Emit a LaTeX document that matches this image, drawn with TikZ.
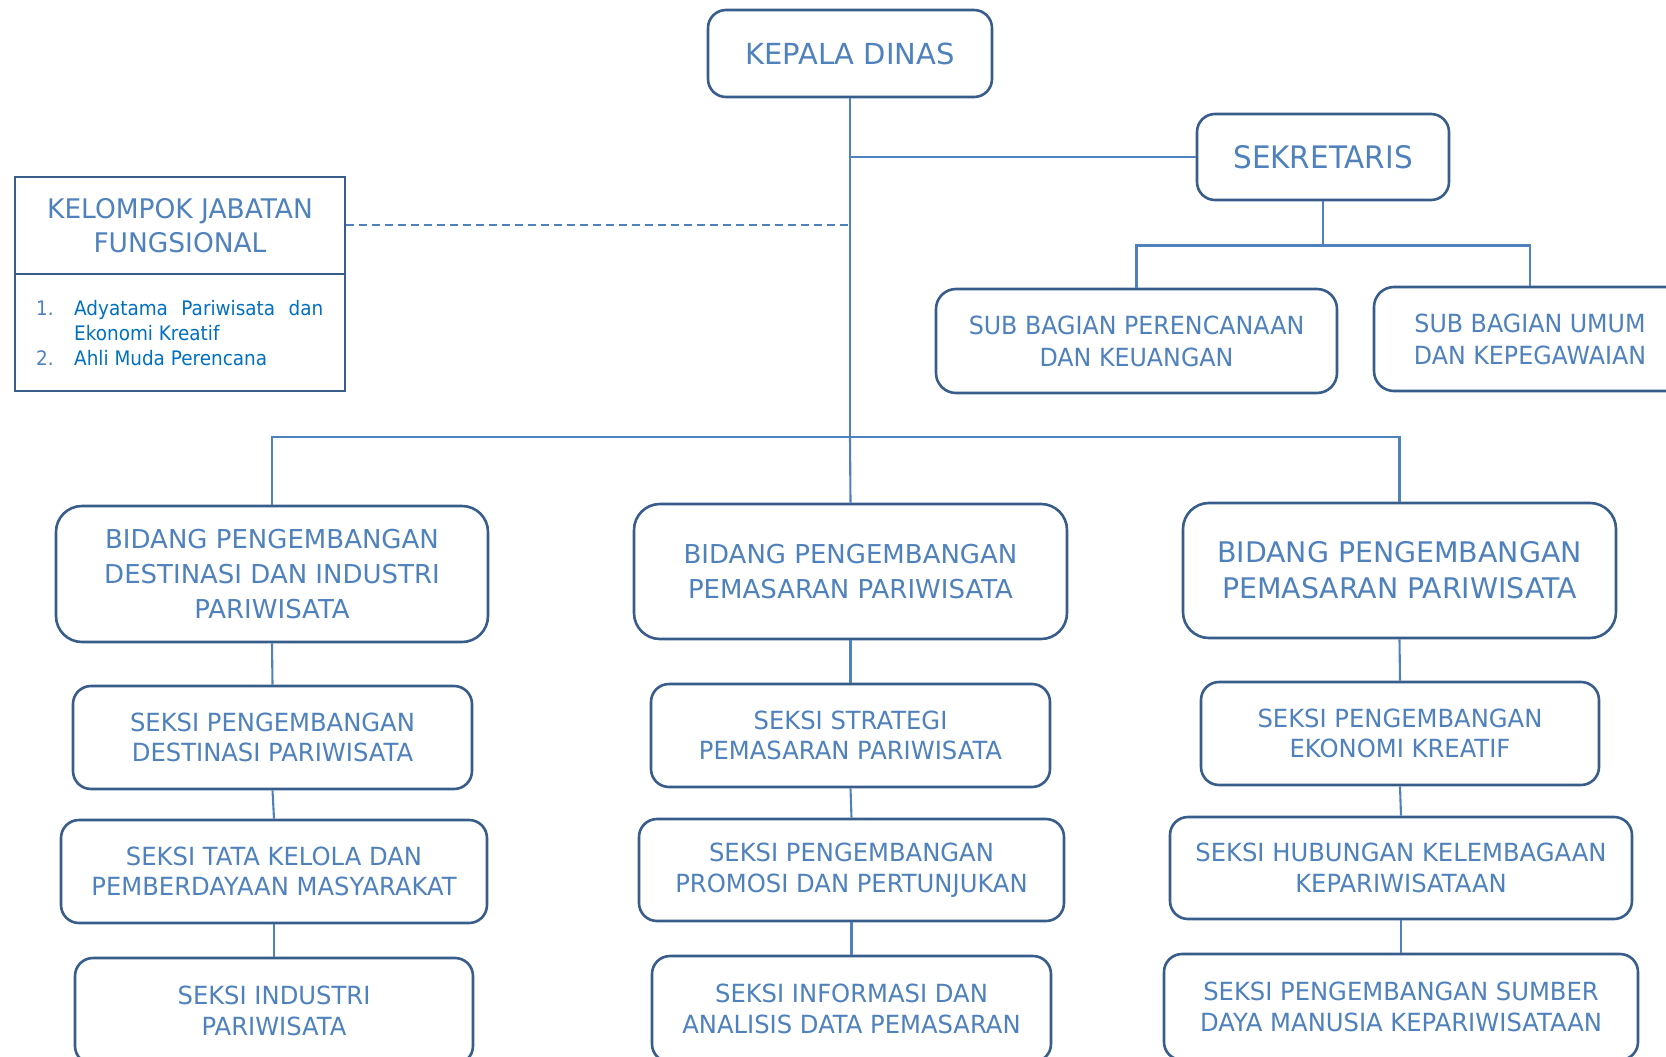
\documentclass[tikz,border=0pt]{standalone}
\usepackage{fontspec}
\setmainfont{DejaVu Sans}
\newfontfamily\fnA[FakeStretch=0.95]{DejaVu Sans}
\newfontfamily\fnB[FakeStretch=0.95]{DejaVu Sans}
\newfontfamily\fnC[FakeStretch=0.97]{DejaVu Sans}
\newfontfamily\fnD[FakeStretch=0.98]{DejaVu Sans}
\newfontfamily\fnE[FakeStretch=0.92]{DejaVu Sans}
\definecolor{bord}{HTML}{385D8A}
\definecolor{txt}{HTML}{4F81BD}
\definecolor{itemc}{HTML}{0070C0}
\begin{document}
\begin{tikzpicture}[x=1pt,y=-1pt,
  box/.style={draw=bord, line width=2.6pt, rounded corners=18pt, fill=white, text=txt, align=center, inner sep=0pt},
  bidang/.style={box, rounded corners=26pt},
  seksi/.style={box, font=\fnC\fontsize{25}{30.5}\selectfont},
  subbag/.style={box, rounded corners=20pt, font=\fnB\fontsize{25}{32}\selectfont},
  sqbox/.style={draw=bord, line width=2.8pt, fill=white, text=txt, align=center, inner sep=0pt},
  conn/.style={draw=txt, line width=2.1pt},
  listtxt/.style={anchor=base west, inner sep=0pt, font=\fnE\fontsize{20}{25}\selectfont},
]
\useasboundingbox (0,0) rectangle (1666,1057);
\clip (0,0) rectangle (1666,1057);

% top level
\node[box, minimum width=284pt, minimum height=87pt, font=\fontsize{29}{35}\selectfont] (kd) at (850,53.5) {KEPALA DINAS};
\node[box, minimum width=252pt, minimum height=86pt, font=\fnA\fontsize{31}{37}\selectfont] (sek) at (1323,157) {SEKRETARIS};
\node[subbag, minimum width=401pt, minimum height=104pt] (sbp) at (1136.5,341) {SUB BAGIAN PERENCANAAN\\DAN KEUANGAN};
\node[subbag, minimum width=312pt, minimum height=104pt] (sbu) at (1530,339) {SUB BAGIAN UMUM\\DAN KEPEGAWAIAN};

% kelompok jabatan fungsional
\node[sqbox, minimum width=330pt, minimum height=97pt, font=\fnD\fontsize{27}{34}\selectfont] (kjfh) at (180,225.5) {KELOMPOK JABATAN\\FUNGSIONAL};
\node[sqbox, minimum width=330pt, minimum height=117pt] (kjfl) at (180,332.5) {};
\node[listtxt, text=txt] (n1) at (36,315) {1.};
\node[listtxt, text=itemc] (i1a) at (74,315) {\makebox[249pt][s]{Adyatama Pariwisata dan}};
\node[listtxt, text=itemc] (i1b) at (74,340) {Ekonomi Kreatif};
\node[listtxt, text=txt] (n2) at (36,365) {2.};
\node[listtxt, text=itemc] (i2) at (74,365) {Ahli Muda Perencana};

% column 1
\node[bidang, minimum width=432pt, minimum height=136pt, font=\fontsize{26}{35}\selectfont] (b1) at (272,574) {BIDANG PENGEMBANGAN\\DESTINASI DAN INDUSTRI\\PARIWISATA};
\node[seksi, minimum width=399pt, minimum height=103pt] (s11) at (272.5,737.5) {SEKSI PENGEMBANGAN\\DESTINASI PARIWISATA};
\node[seksi, minimum width=426pt, minimum height=103pt] (s12) at (274,871.5) {SEKSI TATA KELOLA DAN\\PEMBERDAYAAN MASYARAKAT};
\node[seksi, minimum width=398pt, minimum height=106pt] (s13) at (274,1011) {SEKSI INDUSTRI\\PARIWISATA};

% column 2
\node[bidang, minimum width=433pt, minimum height=135pt, font=\fontsize{26}{35}\selectfont] (b2) at (850.5,571.5) {BIDANG PENGEMBANGAN\\PEMASARAN PARIWISATA};
\node[seksi, minimum width=399pt, minimum height=103pt] (s21) at (850.5,735.5) {SEKSI STRATEGI\\PEMASARAN PARIWISATA};
\node[seksi, minimum width=425pt, minimum height=102pt] (s22) at (851.5,870) {SEKSI PENGEMBANGAN\\PROMOSI DAN PERTUNJUKAN};
\node[seksi, minimum width=399pt, minimum height=106pt] (s23) at (851.5,1009) {SEKSI INFORMASI DAN\\ANALISIS DATA PEMASARAN};

% column 3
\node[bidang, minimum width=433pt, minimum height=135pt, font=\fontsize{28.4}{36}\selectfont] (b3) at (1399.5,570.5) {BIDANG PENGEMBANGAN\\PEMASARAN PARIWISATA};
\node[seksi, minimum width=398pt, minimum height=103pt] (s31) at (1400,733.5) {SEKSI PENGEMBANGAN\\EKONOMI KREATIF};
\node[seksi, minimum width=462pt, minimum height=102pt] (s32) at (1401,868) {SEKSI HUBUNGAN KELEMBAGAAN\\KEPARIWISATAAN};
\node[seksi, minimum width=474pt, minimum height=106pt] (s33) at (1401,1007) {SEKSI PENGEMBANGAN SUMBER\\DAYA MANUSIA KEPARIWISATAAN};

% connectors
\coordinate (mbus) at (850,437);
\coordinate (sbus) at (1323,245.5);
\coordinate (dend) at (850,225);
\draw[conn] (kd.south) -- (mbus);
\draw[conn] (kd.south |- sek.west) -- (sek.west);
\draw[conn] (sek.south) -- (sbus);
\draw[conn] (sbp.north) |- (sbus) -| (sbu.north);
\draw[conn] (b1.north) |- (mbus) -| (b3.north);
\draw[conn] (mbus) -- (b2.north);
\draw[conn, dash pattern=on 8pt off 5pt] (kjfh.east |- dend) -- (dend);
\draw[conn] (b1.south) -- (s11.north);
\draw[conn] (s11.south) -- (s12.north);
\draw[conn] (s12.south) -- (s13.north);
\draw[conn] (b2.south) -- (s21.north);
\draw[conn] (s21.south) -- (s22.north);
\draw[conn] (s22.south) -- (s23.north);
\draw[conn] (b3.south) -- (s31.north);
\draw[conn] (s31.south) -- (s32.north);
\draw[conn] (s32.south) -- (s33.north);
\end{tikzpicture}
\end{document}
